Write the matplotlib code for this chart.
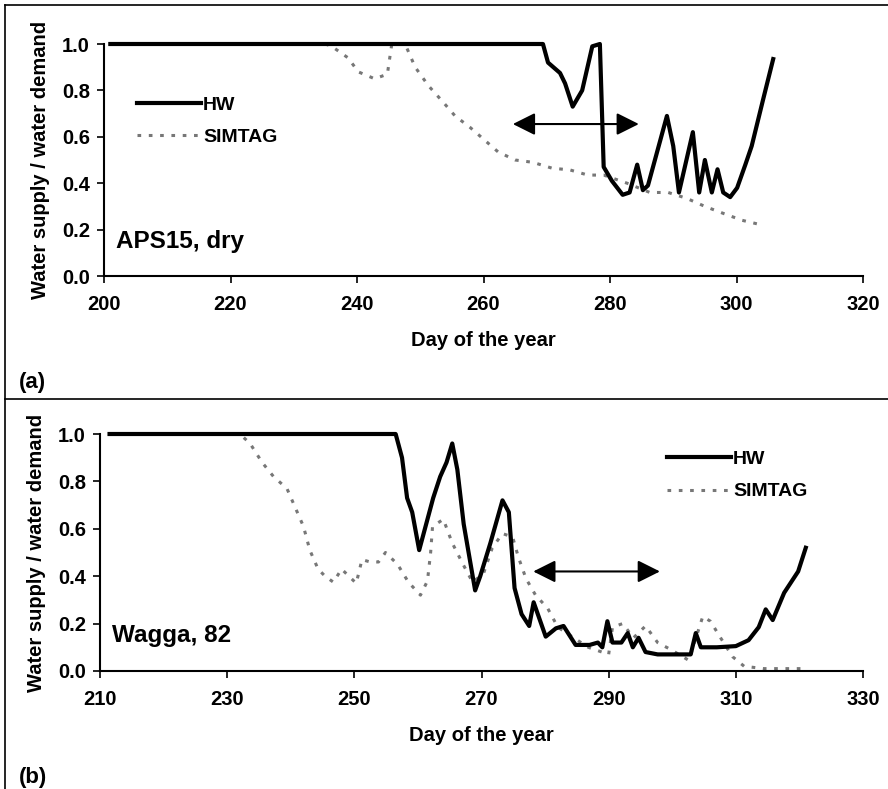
import matplotlib.pyplot as plt
from matplotlib.lines import Line2D

plt.rcParams['font.family'] = ['Liberation Sans', 'DejaVu Sans']
plt.rcParams['font.weight'] = 'bold'

# (a) APS15, dry
a_hw_day = [201, 269.4, 270.2, 272.1, 272.9, 274.1, 275.6, 277.2, 278.4, 279.0, 280.3,
            282.0, 283.1, 284.3, 285.2, 286.0, 289.0, 290.0, 290.9, 293.1, 294.1, 295.0,
            296.1, 297.0, 297.9, 299.0, 300.1, 301.4, 302.4, 304.2, 305.8]
a_hw_val = [1.0, 1.0, 0.92, 0.875, 0.83, 0.73, 0.80, 0.99, 1.0, 0.47, 0.41,
            0.35, 0.36, 0.48, 0.37, 0.39, 0.69, 0.56, 0.36, 0.62, 0.36, 0.50,
            0.36, 0.46, 0.36, 0.34, 0.38, 0.48, 0.56, 0.76, 0.935]
a_sim_day = [201, 235, 236, 238.6, 240.2, 242.8, 244.8, 245.5, 247.6, 249.2, 251.3, 253.6,
             255.5, 257.9, 260.0, 262.3, 265.0, 267.8, 270.8, 273.7, 276.5, 279.0, 282.7,
             286.3, 289.2, 292.1, 295.0, 297.9, 300.9, 304.0]
a_sim_val = [1.0, 1.0, 0.99, 0.94, 0.88, 0.85, 0.87, 1.0, 1.0, 0.90, 0.82, 0.75,
             0.69, 0.64, 0.59, 0.535, 0.50, 0.49, 0.465, 0.457, 0.435, 0.435, 0.40,
             0.36, 0.36, 0.335, 0.30, 0.27, 0.24, 0.22]

# (b) Wagga, 82
b_hw_day = [211.5, 256.5, 257.5, 258.3, 259.1, 260.2, 262.4, 263.5, 264.5, 265.4, 266.2,
            267.2, 268.1, 269.0, 269.8, 271.4, 273.3, 274.3, 275.2, 276.3, 277.5, 278.2,
            280.1, 281.7, 282.9, 284.8, 287.0, 288.3, 289.0, 289.8, 290.6, 292.0, 293.0,
            293.8, 294.7, 295.8, 297.7, 302.9, 303.7, 304.5, 307.0, 310.0, 312.0, 313.6,
            314.7, 315.8, 317.6, 318.7, 319.8, 321.0]
b_hw_val = [1.0, 1.0, 0.90, 0.73, 0.67, 0.51, 0.73, 0.82, 0.88, 0.96, 0.85,
            0.62, 0.48, 0.34, 0.40, 0.54, 0.72, 0.67, 0.35, 0.24, 0.19, 0.29,
            0.145, 0.18, 0.19, 0.11, 0.11, 0.12, 0.10, 0.21, 0.12, 0.12, 0.16,
            0.10, 0.14, 0.08, 0.07, 0.07, 0.16, 0.10, 0.10, 0.105, 0.13, 0.185,
            0.26, 0.215, 0.33, 0.375, 0.42, 0.52]
b_sim_day = [211.5, 232.0, 233.6, 235.5, 237.3, 239.4, 240.7, 242.0, 243.0, 244.3, 245.4,
             246.7, 248.0, 250.3, 251.2, 252.5, 253.8, 254.9, 256.8, 258.5, 260.4, 261.5,
             262.0, 262.3, 264.0, 265.4, 267.0, 268.6, 270.3, 271.7, 273.3, 274.9, 275.8,
             277.0, 278.5, 280.4, 282.0, 284.5, 286.8, 290.0, 290.6, 292.2, 293.9, 295.8,
             297.7, 299.8, 302.6, 304.8, 306.0, 307.6, 309.5, 311.3, 314.4, 320.3]
b_sim_val = [1.0, 1.0, 0.96, 0.88, 0.82, 0.77, 0.69, 0.61, 0.51, 0.43, 0.40,
             0.375, 0.43, 0.37, 0.47, 0.46, 0.46, 0.50, 0.45, 0.375, 0.32, 0.38,
             0.50, 0.61, 0.64, 0.54, 0.455, 0.375, 0.41, 0.52, 0.58, 0.565, 0.48,
             0.39, 0.32, 0.265, 0.185, 0.14, 0.10, 0.07, 0.185, 0.20, 0.14, 0.19,
             0.12, 0.09, 0.045, 0.23, 0.21, 0.14, 0.06, 0.02, 0.01, 0.01]

fig = plt.figure(figsize=(8.88, 7.89), dpi=100)

# frame lines round the panels
for xs, ys in [([5/888, 5/888], [0, 1 - 5/789]),
               ([5/888, 1], [1 - 5/789, 1 - 5/789]),
               ([5/888, 1], [1 - 399/789, 1 - 399/789])]:
    fig.add_artist(Line2D(xs, ys, color='black', lw=1.2, transform=fig.transFigure))

ax1 = fig.add_axes([104/888, 1 - 276/789, (863 - 104)/888, (276 - 44)/789])
ax2 = fig.add_axes([100/888, 1 - 671/789, (863 - 100)/888, (671 - 434)/789])

panels = [
    (ax1, a_hw_day, a_hw_val, a_sim_day, a_sim_val, (200, 320), [200, 220, 240, 260, 280, 300, 320],
     'APS15, dry', (264.2, 285.0, 0.655), (0.0435, 0.775)),
    (ax2, b_hw_day, b_hw_val, b_sim_day, b_sim_val, (210, 330), [210, 230, 250, 270, 290, 310, 330],
     'Wagga, 82', (277.7, 298.5, 0.42), (0.743, 0.93)),
]

for ax, hd, hv, sd, sv, xlim, xt, label, arr, leg in panels:
    ax.plot(sd, sv, color='#777777', lw=2.2, ls=(0, (1.2, 2.5)), clip_on=False, label='SIMTAG')
    ax.plot(hd, hv, color='black', lw=3, clip_on=False, label='HW')
    ax.set_xlim(*xlim)
    ax.set_ylim(0, 1.0)
    ax.set_xticks(xt)
    ax.set_yticks([0.0, 0.2, 0.4, 0.6, 0.8, 1.0])
    ax.set_yticklabels(['0.0', '0.2', '0.4', '0.6', '0.8', '1.0'])
    ax.tick_params(axis='x', labelsize=14.5, length=5, width=1.2, direction='out', pad=9)
    ax.tick_params(axis='y', labelsize=14.5, length=5, width=1.2, direction='out', pad=5)
    for t in ax.get_xticklabels() + ax.get_yticklabels():
        t.set_fontweight('bold')
    ax.spines['top'].set_visible(False)
    ax.spines['right'].set_visible(False)
    ax.spines['left'].set_linewidth(1.5)
    ax.spines['bottom'].set_linewidth(1.5)
    ax.set_xlabel('Day of the year', fontsize=14.5, fontweight='bold', labelpad=12)
    ax.set_ylabel('Water supply / water demand', fontsize=14.5, fontweight='bold', labelpad=9)
    ax.text(0.016, 0.15, label, transform=ax.transAxes, fontsize=17.5, fontweight='bold', va='center')
    ax.annotate('', xy=(arr[0], arr[2]), xytext=(arr[1], arr[2]),
                arrowprops=dict(arrowstyle='<|-|>', color='black', lw=1.5, mutation_scale=34))
    handles, labels = ax.get_legend_handles_labels()
    ax.legend(handles[::-1], labels[::-1], loc='upper left', bbox_to_anchor=leg, frameon=False,
              handlelength=3.3, handletextpad=0.1, labelspacing=0.75, borderpad=0,
              borderaxespad=0, prop={'weight': 'bold', 'size': 14})

fig.text(19/888, 1 - 382/789, '(a)', fontsize=16, fontweight='bold', va='center')
fig.text(19/888, 1 - 777/789, '(b)', fontsize=16, fontweight='bold', va='center')

fig.savefig('out.png', dpi=100)
